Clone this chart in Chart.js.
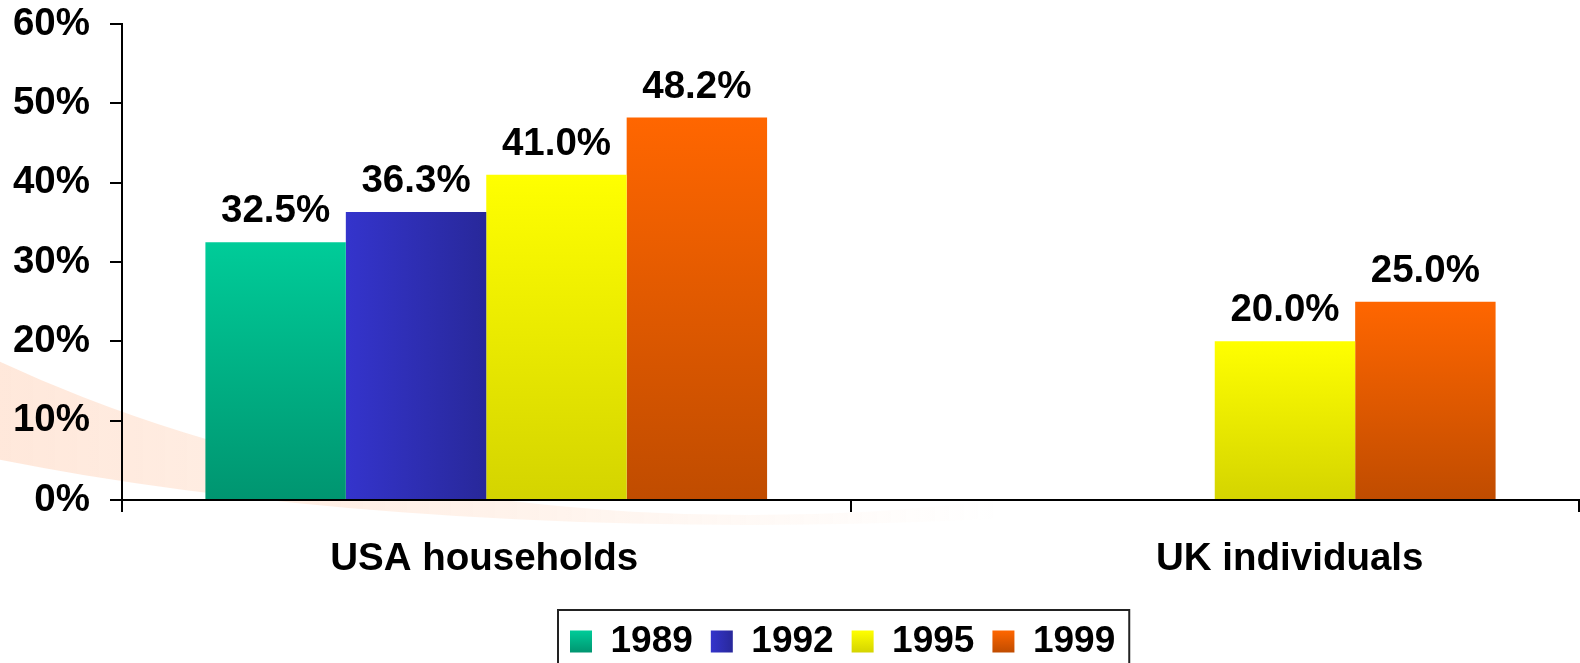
<!DOCTYPE html>
<html>
<head>
<meta charset="utf-8">
<script src="https://cdn.jsdelivr.net/npm/chart.js@4/dist/chart.umd.min.js"></script>
<style>
	html, body { margin: 0; padding: 0; background: #fff; }
	#grafico { display: block; }
</style>
</head>
<body>
<canvas id="grafico" width="1580" height="663"></canvas>
<script>
// datos
var categorias = ['USA households', 'UK individuals'];
var anios = ['1989', '1992', '1995', '1999'];
var valores1989 = [32.5, null];
var valores1992 = [36.3, null];
var valores1995 = [41.0, 20.0];
var valores1999 = [48.2, 25.0];
var marcasY = [0, 10, 20, 30, 40, 50, 60];

// estilo
var fuente = "'Liberation Sans', Arial, sans-serif";
var anchoGrupo = 0.771;
var colores = {
	'1989': ['#00CC99', '#009570', 'v'],
	'1992': ['#3434CC', '#28289A', 'h'],
	'1995': ['#FFFF00', '#D4D400', 'v'],
	'1999': ['#FF6600', '#C04C00', 'v']
};
var corrimientoCategorias = [-2, 75];

function degradado(ctx, c, x0, y0, x1, y1) {
	if (![x0, y0, x1, y1].every(isFinite)) return c[0];
	var g = ctx.createLinearGradient(x0, y0, x1, y1);
	g.addColorStop(0, c[0]);
	g.addColorStop(1, c[1]);
	return g;
}

function rellenoBarra(context) {
	var c = colores[context.dataset.label];
	if (context.type !== 'data' || context.raw == null) return c[0];
	var chart = context.chart;
	var xs = chart.scales.x, ys = chart.scales.y;
	if (!xs || !ys) return c[0];
	if (c[2] === 'h') {
		var catW = (xs.right - xs.left) / categorias.length;
		var barW = catW * anchoGrupo / anios.length;
		var x0 = xs.getPixelForValue(context.dataIndex) - catW * anchoGrupo / 2 + context.datasetIndex * barW;
		return degradado(chart.ctx, c, x0, 0, x0 + barW, 0);
	}
	var arriba = ys.getPixelForValue(context.raw);
	var base = ys.getPixelForValue(0);
	return degradado(chart.ctx, c, 0, arriba, 0, base);
}

// franja naranja clara del fondo
var fondo = {
	id: 'fondo',
	beforeDraw(chart) {
		var ctx = chart.ctx;
		ctx.save();
		var g = ctx.createLinearGradient(0, 0, 1000, 0);
		g.addColorStop(0, 'rgba(255,150,90,0.22)');
		g.addColorStop(0.55, 'rgba(255,160,100,0.12)');
		g.addColorStop(1, 'rgba(255,180,130,0)');
		ctx.fillStyle = g;
		ctx.beginPath();
		ctx.ellipse(750, 228, 1200, 297, 0, 0, Math.PI, false);
		ctx.ellipse(750, -184, 1200, 699, 0, Math.PI, 0, true);
		ctx.closePath();
		ctx.fill();
		ctx.restore();
	}
};

// valores encima de las barras y nombres de categorias
var etiquetas = {
	id: 'etiquetas',
	afterDatasetsDraw(chart) {
		var ctx = chart.ctx;
		ctx.save();
		ctx.font = 'bold 38.5px ' + fuente;
		ctx.fillStyle = '#000';
		ctx.textAlign = 'center';
		ctx.textBaseline = 'alphabetic';
		chart.data.datasets.forEach(function (ds, i) {
			chart.getDatasetMeta(i).data.forEach(function (bar, j) {
				if (ds.data[j] == null) return;
				ctx.fillText(ds.data[j].toFixed(1) + '%', bar.x, bar.y - 20);
			});
		});
		var xs = chart.scales.x;
		ctx.font = 'bold 38.5px ' + fuente;
		categorias.forEach(function (cat, i) {
			ctx.fillText(cat, xs.getPixelForValue(i) + corrimientoCategorias[i], xs.top + 70);
		});
		ctx.restore();
	}
};

// leyenda: posicion, degradados y marco
var leyendaCaja = {
	id: 'leyendaCaja',
	afterUpdate(chart) {
		var lg = chart.legend;
		if (!lg || !lg.legendHitBoxes || !lg.legendHitBoxes.length) return;
		var dx = 570 - lg.legendHitBoxes[0].left;
		var dy = 7;
		lg.left += dx; lg.right += dx;
		lg.top += dy; lg.bottom += dy;
		lg.legendHitBoxes.forEach(function (h, i) {
			h.left += dx;
			h.top += dy;
			var item = lg.legendItems[i];
			var c = colores[item.text];
			var y0 = h.top + (37 - 22) / 2;
			item.fillStyle = c[2] === 'h'
				? degradado(chart.ctx, c, h.left, 0, h.left + 22, 0)
				: degradado(chart.ctx, c, 0, y0, 0, y0 + 22);
		});
	},
	afterDraw(chart) {
		var lg = chart.legend;
		var hb = lg.legendHitBoxes;
		if (!hb || !hb.length) return;
		var ctx = chart.ctx;
		var ult = hb[hb.length - 1];
		ctx.save();
		ctx.strokeStyle = '#222';
		ctx.lineWidth = 2;
		ctx.strokeRect(hb[0].left - 12, lg.top + 5, ult.left + ult.width + 14 - (hb[0].left - 12), 100);
		ctx.restore();
	}
};

var series = [valores1989, valores1992, valores1995, valores1999];

var config = {
	type: 'bar',
	data: {
		labels: categorias,
		datasets: anios.map(function (a, i) {
			return {
				label: a,
				data: series[i],
				backgroundColor: rellenoBarra,
				borderWidth: 0,
				categoryPercentage: anchoGrupo,
				barPercentage: 1
			};
		})
	},
	options: {
		responsive: false,
		animation: false,
		layout: {
			padding: { top: 24, right: 1, left: 0, bottom: 0 }
		},
		plugins: {
			tooltip: { enabled: false },
			legend: {
				position: 'bottom',
				labels: {
					boxWidth: 22,
					boxHeight: 22,
					padding: 18,
					color: '#000',
					font: { family: fuente, size: 37, weight: 'bold' }
				}
			}
		},
		scales: {
			x: {
				z: 1,
				afterFit: function (s) {
					s.height = 98;
					s.paddingLeft = 0; s.paddingRight = 0;
				},
				grid: {
					offset: true,
					drawOnChartArea: false,
					color: '#000',
					lineWidth: 2,
					tickLength: 12
				},
				border: { color: '#000', width: 2 },
				ticks: { display: false }
			},
			y: {
				z: 1,
				min: 0,
				max: 60,
				afterFit: function (s) {
					s.width = 122;
					s.paddingTop = 0; s.paddingBottom = 0;
				},
				afterBuildTicks: function (s) {
					s.ticks = marcasY.map(function (v) { return { value: v }; });
				},
				grid: {
					drawOnChartArea: false,
					color: '#000',
					lineWidth: 2,
					tickLength: 12
				},
				border: { color: '#000', width: 2 },
				ticks: {
					padding: 20,
					color: '#000',
					font: { family: fuente, size: 38.5, weight: 'bold' },
					callback: function (v) { return v + '%'; }
				}
			}
		}
	},
	plugins: [fondo, etiquetas, leyendaCaja]
};

var grafico = new Chart(document.getElementById('grafico'), config);
</script>
</body>
</html>
